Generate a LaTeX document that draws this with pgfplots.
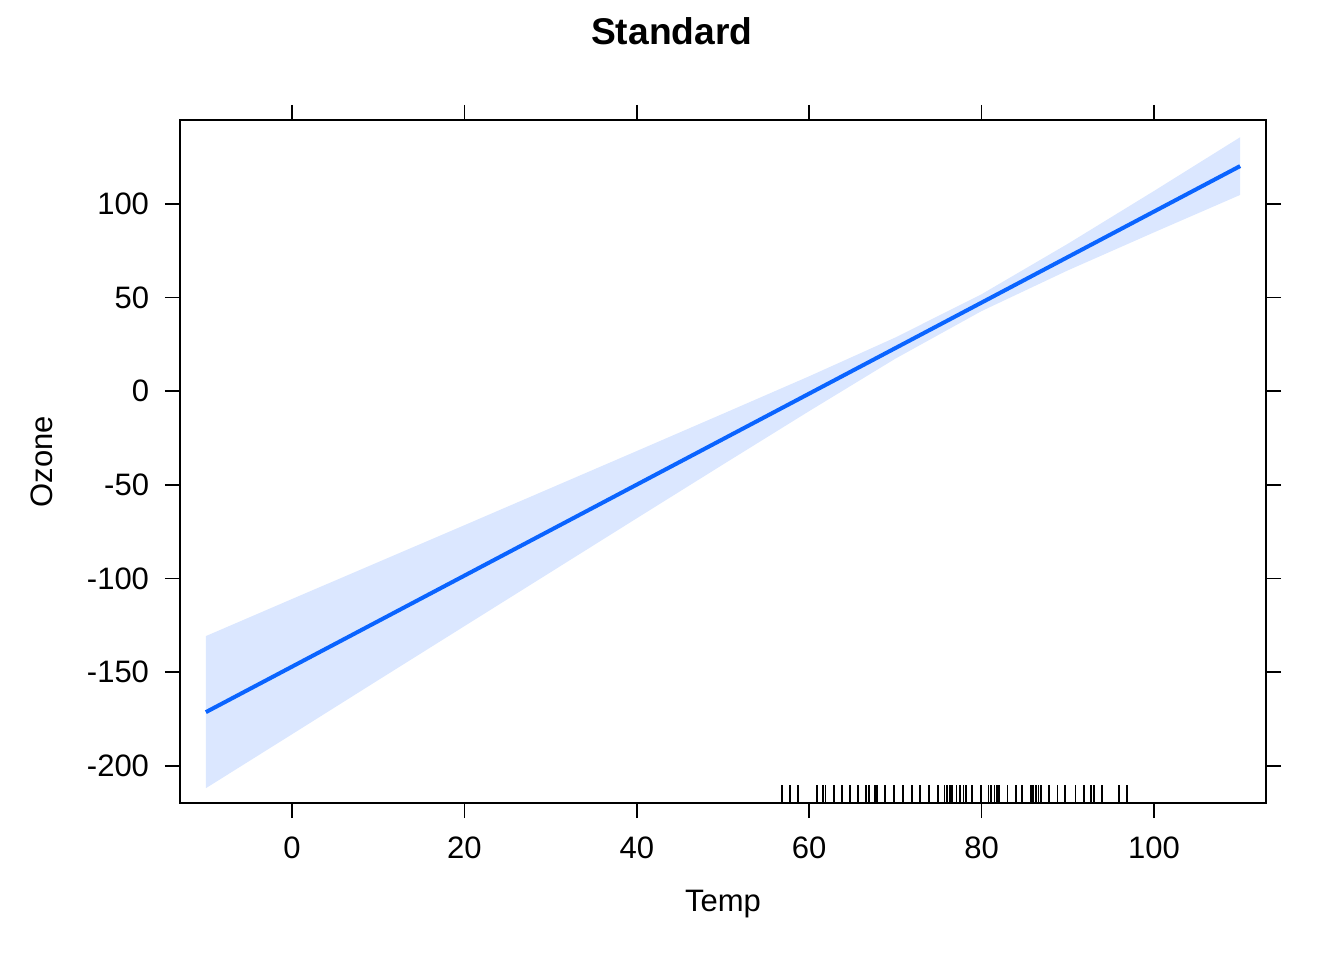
\documentclass[border=0pt]{standalone}
\usepackage{pgfplots}
\pgfplotsset{compat=1.18}
\usepackage{fontspec}
\setmainfont{Liberation Sans}
\definecolor{linecol}{RGB}{10,100,255}
\definecolor{bandcol}{RGB}{219,231,255}
\begin{document}
\begin{tikzpicture}
\useasboundingbox (-90pt,-78.5pt) rectangle (582pt,401.5pt);
\begin{axis}[
  scale only axis,
  width=543pt, height=341.5pt,
  xmin=-13, xmax=113, ymin=-219.8, ymax=144.8,
  xtick={0,20,40,60,80,100},
  ytick={-200,-150,-100,-50,0,50,100},
  tick align=outside,
  major tick length=7.5pt,
  xtick pos=both, ytick pos=both,
  xticklabel pos=lower, yticklabel pos=left,
  axis line style={line width=0.9pt},
  every tick/.style={black, line width=0.9pt},
  /pgf/number format/assume math mode=true,
  /pgf/number format/1000 sep={},
  xticklabel style={font=\fontsize{15.5}{18}\selectfont, anchor=base, inner sep=0pt, yshift=-20.2pt},
  yticklabel style={font=\fontsize{15.5}{18}\selectfont, anchor=east, inner sep=0pt, xshift=-7.8pt},
  xticklabel shift=0pt, yticklabel shift=0pt,
  title={Standard},
  title style={font=\fontsize{18.6}{22}\selectfont\bfseries, anchor=base, inner sep=0pt, at={(axis description cs:0.4528,1)}, yshift=31.8pt},
  xlabel={Temp},
  ylabel={Ozone},
  every axis x label/.style={at={(axis description cs:0.5,0)}, anchor=base, inner sep=0pt, yshift=-54.3pt, font=\fontsize{15.5}{18}\selectfont},
  every axis y label/.style={at={(axis description cs:0,0.5)}, rotate=90, anchor=base, inner sep=0pt, yshift=63.7pt, font=\fontsize{15.5}{18}\selectfont},
  clip=true,
]
% confidence band (upper edge left to right, lower edge right to left)
\addplot[fill=bandcol, draw=none] coordinates {
  (-10,-130.7) (0,-110.9) (10,-91.2) (20,-71.5) (30,-51.7) (40,-31.9) (50,-12.0)
  (60,8.0) (70,28.7) (80,51.8) (90,78.7) (100,106.9) (110,135.6)
  (110,104.8) (100,84.8) (90,64.5) (80,42.8) (70,17.4) (60,-10.6) (50,-39.1)
  (40,-67.8) (30,-96.6) (20,-125.4) (10,-154.2) (0,-183.1) (-10,-211.9)
} -- cycle;
% fitted line
\addplot[linecol, line width=2pt] coordinates {(-10,-171.3) (110,120.2)};
% rug
\addplot[only marks, mark=|, mark size=4.5pt, mark options={line width=0.9pt, black}] coordinates {
  (56.8,-215.0) (57.8,-215.0) (58.7,-215.0) (60.9,-215.0) (61.6,-215.0) (61.9,-215.0)
  (62.9,-215.0) (63.8,-215.0) (64.7,-215.0) (65.7,-215.0) (66.6,-215.0) (66.9,-215.0)
  (67.6,-215.0) (67.9,-215.0) (68.8,-215.0) (69.8,-215.0) (70.9,-215.0) (71.9,-215.0)
  (72.9,-215.0) (73.9,-215.0) (74.9,-215.0) (75.7,-215.0) (76.0,-215.0) (76.3,-215.0)
  (76.6,-215.0) (77.1,-215.0) (77.5,-215.0) (77.9,-215.0) (78.2,-215.0) (78.9,-215.0)
  (79.9,-215.0) (80.8,-215.0) (81.1,-215.0) (81.5,-215.0) (81.8,-215.0) (82.0,-215.0)
  (83.0,-215.0) (84.0,-215.0) (84.7,-215.0) (85.7,-215.0) (86.0,-215.0) (86.3,-215.0)
  (86.6,-215.0) (86.9,-215.0) (87.8,-215.0) (88.8,-215.0) (89.7,-215.0) (90.9,-215.0)
  (91.9,-215.0) (92.7,-215.0) (93.0,-215.0) (94.0,-215.0) (95.9,-215.0) (96.9,-215.0)
};
\end{axis}
\end{tikzpicture}
\end{document}
